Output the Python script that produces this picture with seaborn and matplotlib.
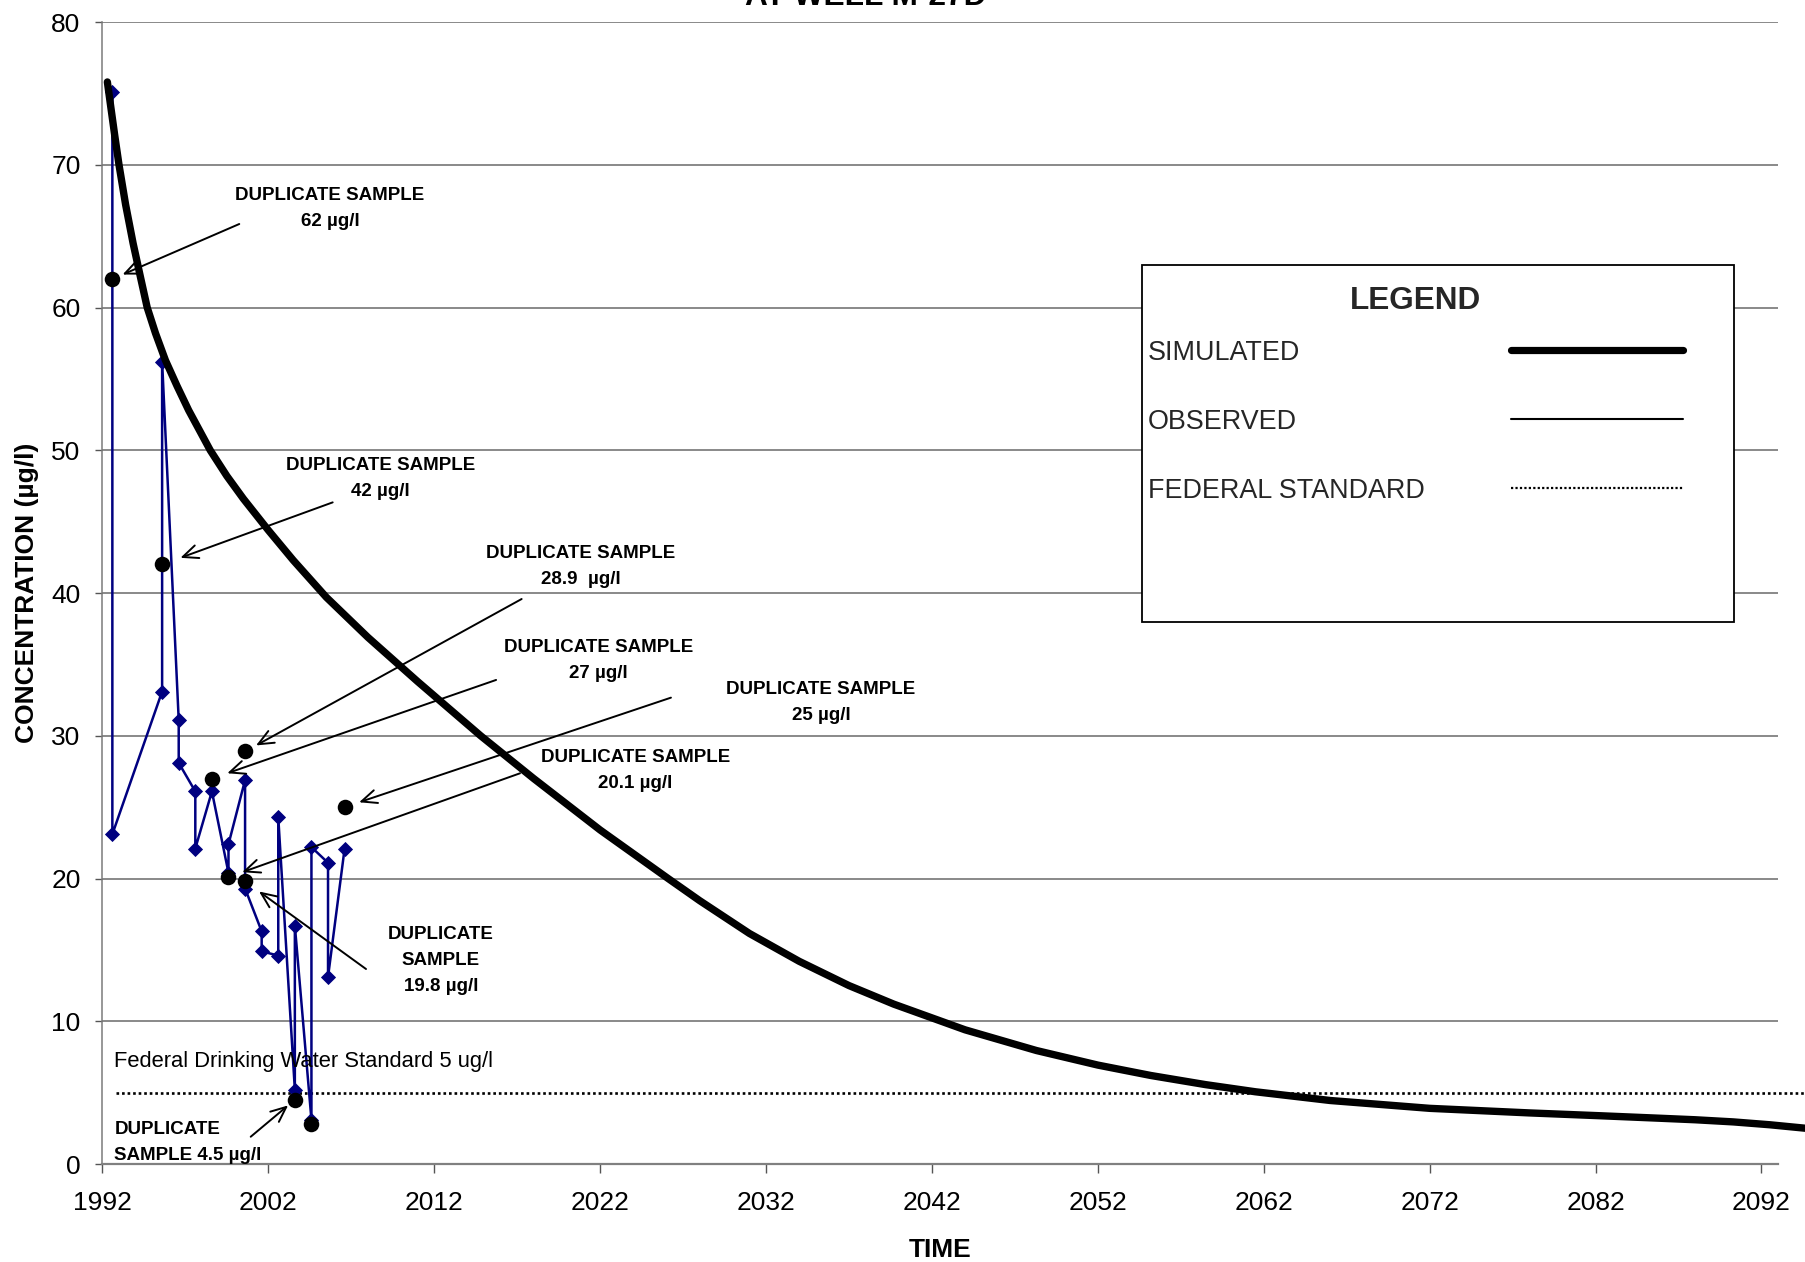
import matplotlib
matplotlib.use("Agg")
import matplotlib.pyplot as plt
from matplotlib.lines import Line2D
from matplotlib.patches import Rectangle
from matplotlib.font_manager import FontProperties
import seaborn as sns

# ---- data -------------------------------------------------------------
sim_years = [1992.3, 1992.5, 1992.75, 1993.0, 1993.4, 1993.85, 1994.3, 1994.7,
             1995.2, 1995.8, 1996.5, 1997.2, 1998.5, 1999.5, 2000.5, 2002.0,
             2003.5, 2005.5, 2008.0, 2011.0, 2014.8, 2018.0, 2022.0, 2026.1,
             2028.0, 2031.0, 2034.0, 2037.0, 2039.7, 2044.0, 2048.3, 2052.0,
             2055.2, 2058.5, 2061.5, 2066.0, 2072.0, 2078.0, 2082.3, 2086.0,
             2088.0, 2090.3, 2092.5, 2094.7, 2096.0]
sim_conc = [75.8, 74.1, 72.0, 70.0, 67.2, 64.5, 62.1, 60.0,
            58.2, 56.3, 54.5, 52.8, 50.0, 48.2, 46.6, 44.4,
            42.3, 39.7, 36.9, 33.8, 30.0, 27.0, 23.4, 20.0,
            18.45, 16.15, 14.2, 12.5, 11.2, 9.4, 7.95, 6.93,
            6.2, 5.56, 5.06, 4.45, 3.9, 3.58, 3.38, 3.2,
            3.1, 2.95, 2.75, 2.5, 2.33]

obs_years = [1992.6, 1992.6, 1995.6, 1995.6, 1996.6, 1996.6, 1997.6, 1997.6,
             1998.6, 1999.6, 1999.6, 2000.6, 2000.6, 2001.6, 2001.6, 2002.6,
             2002.6, 2003.6, 2003.6, 2004.6, 2004.6, 2005.6, 2005.6, 2006.6]
obs_conc = [75.1, 23.1, 33.1, 56.2, 31.1, 28.1, 26.1, 22.1,
            26.1, 20.4, 22.4, 26.9, 19.3, 16.3, 14.9, 14.6,
            24.3, 5.2, 16.7, 3.1, 22.2, 21.1, 13.1, 22.1]

dup_years = [1992.6, 1995.6, 2000.6, 1998.6, 2006.6, 1999.6, 2000.6, 2003.6, 2004.6]
dup_conc = [62.0, 42.0, 28.9, 27.0, 25.0, 20.1, 19.8, 4.5, 2.8]
dup_labels = ["DUPLICATE SAMPLE\n62 µg/l", "DUPLICATE SAMPLE\n42 µg/l",
              "DUPLICATE SAMPLE\n28.9  µg/l", "DUPLICATE SAMPLE\n27 µg/l",
              "DUPLICATE SAMPLE\n25 µg/l", "DUPLICATE SAMPLE\n20.1 µg/l",
              "DUPLICATE\nSAMPLE\n19.8 µg/l", "DUPLICATE\nSAMPLE 4.5 µg/l"]

std_years = [1992.8, 2096.0]
std_conc = [5.0, 5.0]
std_text = "Federal Drinking Water Standard 5 ug/l"

x_ticks = list(range(1992, 2093, 10))
y_ticks = list(range(0, 81, 10))
key_labels = ["SIMULATED", "OBSERVED", "FEDERAL STANDARD"]

# ---- annotation layout (label centres, arrow tails, gap at arrow head) ----
label_pos = [(2005.72, 66.95), (2008.75, 48.05), (2020.82, 41.86), (2021.9, 35.3),
             (2035.32, 32.32), (2024.13, 27.54), (2012.41, 14.25), (1992.72, 1.48)]
tail_pos = [(2000.25, 65.85), (2005.88, 46.35), (2017.27, 39.58), (2015.73, 33.91),
            (2026.27, 32.67), (2017.17, 27.37), (2007.89, 13.66), (2000.94, 1.91)]
head_gap = [8, 14, 9, 11.7, 11, 10.5, 12.4, 6.3]

# ---- style ---------------------------------------------------------------
sns.set_theme(style="white")
plt.rcParams["font.family"] = ["Liberation Sans", "DejaVu Sans"]

NAVY = "#000080"
DPI = 100
KEY_SIZE = 19.4
fig = plt.figure(figsize=(18.06, 12.62), dpi=DPI, facecolor="white")
ax = fig.add_axes([0.0567, 0.07765, 0.9278, 0.9049])
ax.set_facecolor("white")

# federal standard
sns.lineplot(x=std_years, y=std_conc, ax=ax, color="black", lw=1.9,
             linestyle=(0, (1, 1.1)), estimator=None, sort=False,
             clip_on=False, zorder=2)

# observed concentrations
sns.lineplot(x=obs_years, y=obs_conc, ax=ax, color=NAVY, lw=1.8,
             marker="D", markersize=7.5, markeredgewidth=0.6,
             markeredgecolor=NAVY, estimator=None, sort=False, zorder=3)

# duplicate samples
sns.scatterplot(x=dup_years, y=dup_conc, ax=ax, s=125, color="black",
                edgecolor="black", linewidth=0, zorder=4)

# simulated concentration
sns.lineplot(x=sim_years, y=sim_conc, ax=ax, color="black", lw=5.3,
             solid_capstyle="round", solid_joinstyle="round", estimator=None,
             sort=False, clip_on=False, zorder=5)

# arrows and labels for duplicates
for i, text in enumerate(dup_labels):
    ax.annotate("", xy=(dup_years[i], dup_conc[i]), xytext=tail_pos[i],
                arrowprops=dict(arrowstyle="->,head_length=1.1,head_width=0.48",
                                color="black", lw=1.4, shrinkA=0,
                                shrinkB=head_gap[i], mutation_scale=10),
                zorder=6)
    last = i == len(dup_labels) - 1
    ax.text(label_pos[i][0], label_pos[i][1], text,
            ha="left" if last else "center", va="center",
            multialignment="left" if last else "center",
            fontsize=13.5, fontweight="bold", linespacing=1.68,
            color="black", zorder=6)

ax.text(1992.72, 7.17, std_text, ha="left", va="center", fontsize=15.8,
        color="black", zorder=6)

# axes
ax.set_xlim(1992, 2093)
ax.set_ylim(0, 80)
ax.set_xticks(x_ticks)
ax.set_yticks(y_ticks)
ax.set_xticklabels([str(t) for t in x_ticks])
ax.yaxis.grid(True, color="#6a6a6a", lw=1.1, zorder=0)
ax.xaxis.grid(False)
ax.set_axisbelow(True)
for side in ("top", "right"):
    ax.spines[side].set_visible(False)
ax.spines["left"].set_color("#7a7a7a")
ax.spines["left"].set_linewidth(1.1)
ax.spines["bottom"].set_color("#808080")
ax.spines["bottom"].set_linewidth(1.6)
ax.tick_params(axis="y", direction="out", length=5.4, width=1, color="#555555",
               pad=10.3, labelsize=19, labelcolor="black", left=True)
ax.tick_params(axis="x", direction="out", length=6.2, width=1, color="#555555",
               pad=13.5, labelsize=19, labelcolor="black", bottom=True)

ax.set_xlabel("TIME", fontsize=19, fontweight="bold", color="black")
ax.xaxis.label.set_verticalalignment("center")
ax.xaxis.set_label_coords(0.5, -0.0753)
ax.set_ylabel("CONCENTRATION (µg/l)", fontsize=19, fontweight="bold", color="black")
ax.yaxis.label.set_verticalalignment("center")
ax.yaxis.set_label_coords(-0.0452, 0.5)

fig.text(866 / 1806, 1 - 4.7 / 1262, "AT WELL M-27D", ha="center", va="baseline",
         fontsize=22.8, fontweight="bold", color="black")

# legend box
ax.add_patch(Rectangle((0.6204, 0.4743), 0.3534, 0.3129, transform=ax.transAxes,
                       facecolor="white", edgecolor="black", lw=1.3, zorder=7,
                       clip_on=False))
key_handles = [Line2D([], [], color="black", lw=5.2, solid_capstyle="round"),
               Line2D([], [], color="black", lw=1.5),
               Line2D([], [], color="black", lw=1.6, linestyle=(0, (1, 1)))]
handle_px = 172
leg = ax.legend(key_handles, key_labels, loc="upper left",
                bbox_to_anchor=(0.6239, 0.7688), bbox_transform=ax.transAxes,
                frameon=False, markerfirst=False, borderpad=0, borderaxespad=0,
                handlelength=handle_px * 72 / DPI / KEY_SIZE, handletextpad=1.0,
                labelspacing=1.6, title="LEGEND",
                prop=FontProperties(family="Liberation Sans", size=KEY_SIZE),
                title_fontproperties=FontProperties(family="Liberation Sans",
                                                    weight="bold", size=22.7))
leg.set_zorder(8)

# keep the key labels flush left and the key lines in one column
fig.canvas.draw()
renderer = fig.canvas.get_renderer()
widths = [t.get_window_extent(renderer).width for t in leg.get_texts()]
handle_left_px = 1511 - 1148
rows = [row for col in leg._legend_handle_box.get_children()
        for row in col.get_children()]
for row, w in zip(rows, widths):
    row.sep = max(handle_left_px - w, 4) * 72 / DPI
leg._legend_box.sep = 17

fig.savefig("out.png", dpi=DPI, facecolor="white")
